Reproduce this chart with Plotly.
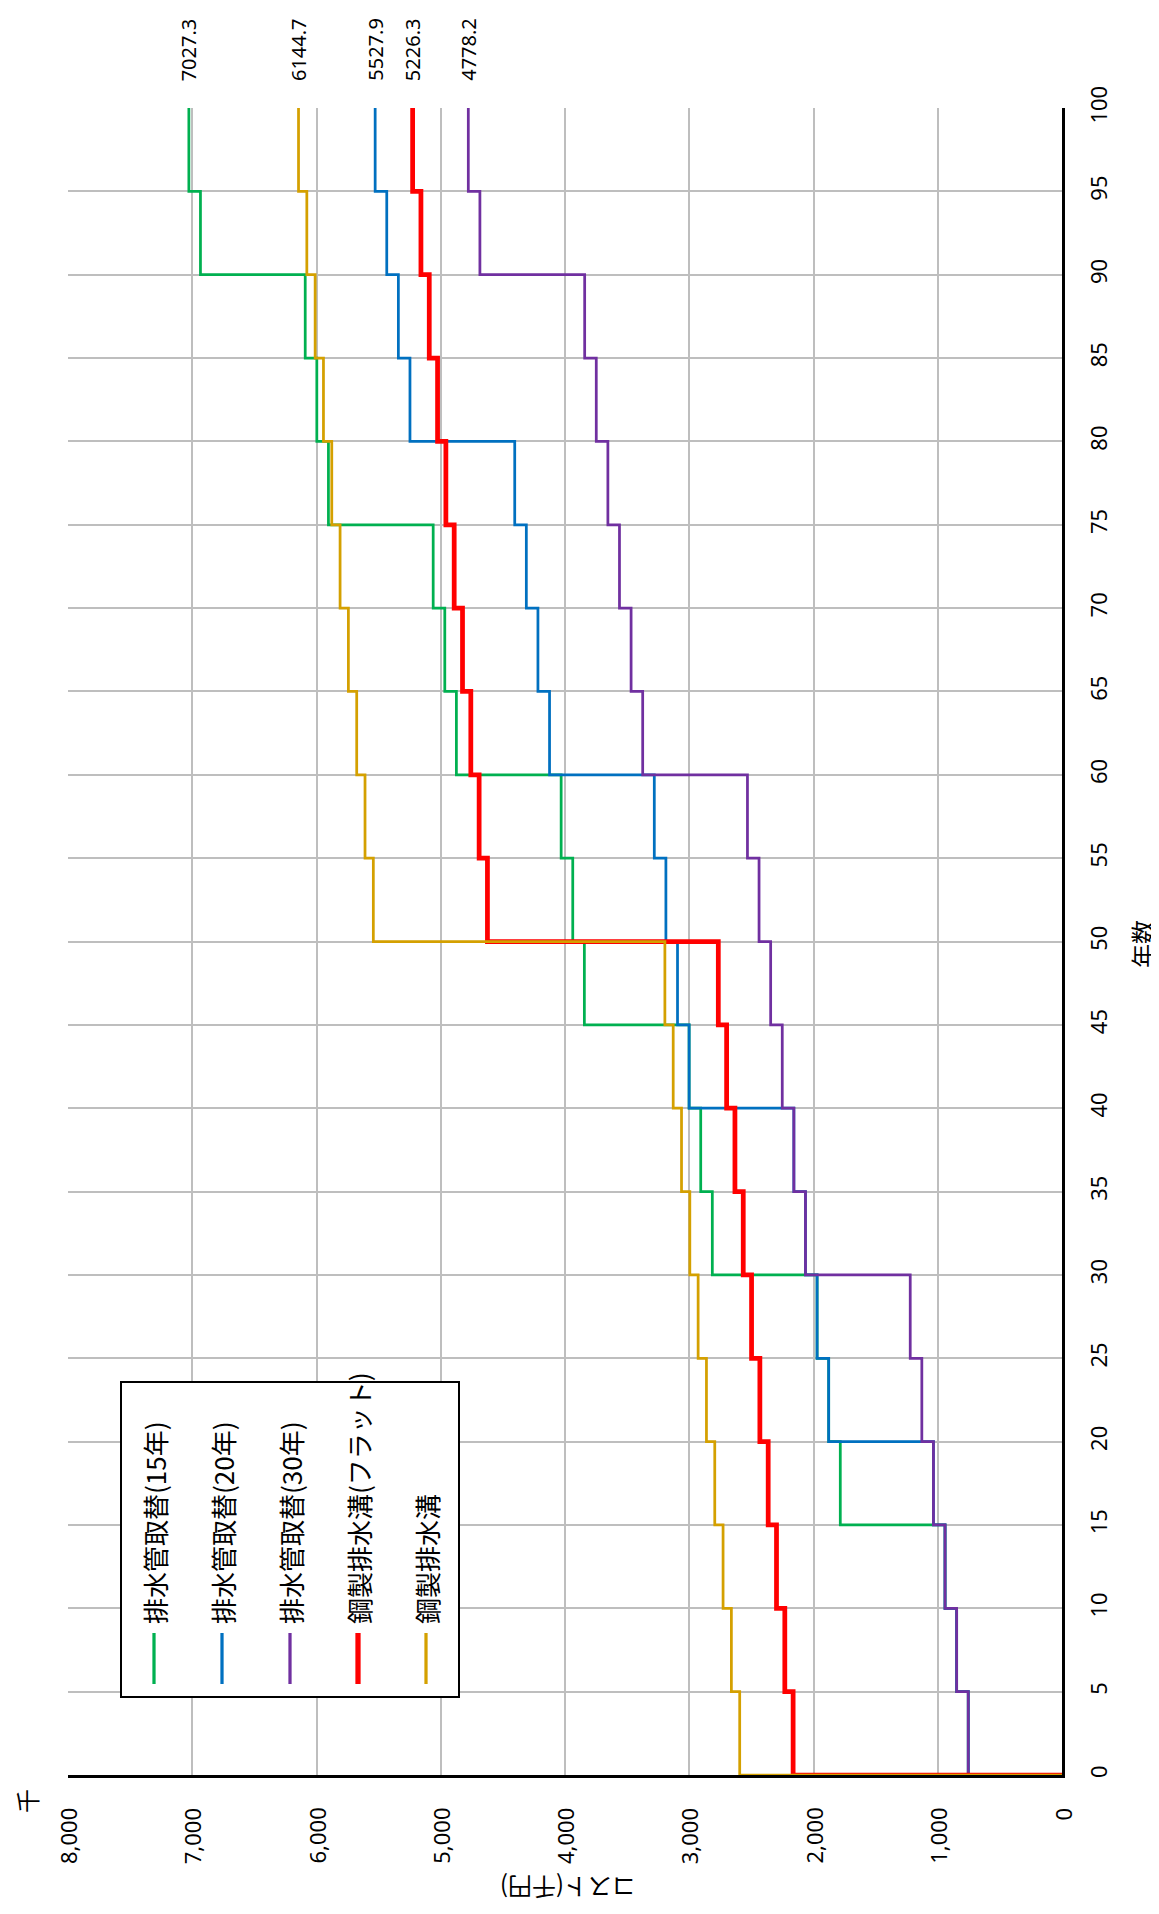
import plotly.graph_objects as go

# ---- data ----
years = [0, 5, 10, 15, 20, 25, 30, 35, 40, 45, 50, 55, 60, 65, 70, 75, 80, 85, 90, 95, 100]

pipe15 = [754.5, 847.9, 941.3, 1784.4, 1877.8, 1971.2, 2814.3, 2907.7, 3001.1, 3844.2,
          3937.6, 4031.0, 4874.1, 4967.5, 5060.9, 5904.0, 5997.4, 6090.8, 6933.9, 7027.3, 7027.3]
pipe20 = [754.5, 847.9, 941.3, 1034.7, 1877.8, 1971.2, 2064.6, 2158.0, 3001.1, 3094.5,
          3187.9, 3281.3, 4124.4, 4217.8, 4311.2, 4404.6, 5247.7, 5341.1, 5434.5, 5527.9, 5527.9]
pipe30 = [754.5, 847.9, 941.3, 1034.7, 1128.1, 1221.5, 2064.6, 2158.0, 2251.4, 2344.8,
          2438.2, 2531.6, 3374.7, 3468.1, 3561.5, 3654.9, 3748.3, 3841.7, 4684.8, 4778.2, 4778.2]
steel_flat = [2164.0, 2230.9, 2297.8, 2364.7, 2431.6, 2498.5, 2565.4, 2632.3, 2699.2, 2766.1,
              4624.2, 4691.1, 4758.0, 4824.9, 4891.8, 4958.7, 5025.6, 5092.5, 5159.4, 5226.3, 5226.3]
steel = [2594.0, 2660.9, 2727.8, 2794.7, 2861.6, 2928.5, 2995.4, 3062.3, 3129.2, 3196.1,
         5542.6, 5609.5, 5676.4, 5743.3, 5810.2, 5877.1, 5944.0, 6010.9, 6077.8, 6144.7, 6144.7]

series_names = ["排水管取替(15年)", "排水管取替(20年)", "排水管取替(30年)", "鋼製排水溝(フラット)", "鋼製排水溝"]
series_values = [pipe15, pipe20, pipe30, steel_flat, steel]
series_colors = ["#00B050", "#0070C0", "#7030A0", "#FF0000", "#D4A000"]
series_widths = [2.75, 2.75, 2.75, 4.75, 2.75]

cost_ticks = [0, 1000, 2000, 3000, 4000, 5000, 6000, 7000, 8000]
year_ticks = years

NUM_FONT = "Noto Sans"
JP_FONT = "Noto Sans CJK JP"

# page body has an 8px margin; positions below are screen pixels
OFF = 8
W, H = 1159 - OFF, 1914 - OFF
X_LEFT, X_RIGHT, Y_TOP, Y_BOTTOM = 68 - OFF, 1062 - OFF, 108 - OFF, 1775 - OFF


def px(x):
    return (x - OFF - X_LEFT) / (X_RIGHT - X_LEFT)


def py(y):
    return (Y_BOTTOM - (y - OFF)) / (Y_BOTTOM - Y_TOP)


fig = go.Figure()
for name, vals, col, lw in zip(series_names, series_values, series_colors, series_widths):
    fig.add_trace(go.Scatter(
        x=[0] + vals, y=[0] + years, mode="lines", name=name,
        line=dict(color=col, width=lw, shape="vh"), showlegend=False,
        hoverinfo="skip"))

annotations = []
# data labels at the end of each series
for vals in series_values:
    annotations.append(dict(
        x=vals[-1], y=100, xref="x", yref="y", text=f"{vals[-1]:.1f}",
        showarrow=False, textangle=-90, yanchor="bottom", xanchor="center",
        yshift=25, font=dict(family=NUM_FONT, size=20, color="#000000")))

# cost tick labels, hanging below the axis (rotated)
for v in cost_ticks:
    annotations.append(dict(
        x=v, y=py(1806), xref="x", yref="paper", text=f"{v:,}",
        showarrow=False, textangle=-90, yanchor="top", xanchor="center",
        font=dict(family=NUM_FONT, size=22, color="#000000")))

# legend (rotated text, built by hand)
shapes = [dict(type="rect", xref="paper", yref="paper",
               x0=px(121), x1=px(459), y0=py(1697), y1=py(1382),
               line=dict(color="#000000", width=2), fillcolor="#FFFFFF", layer="above")]
leg_x = [154, 222, 290, 358, 426]
for lx, name, col, lw in zip(leg_x, series_names, series_colors, series_widths):
    shapes.append(dict(type="line", xref="paper", yref="paper",
                       x0=px(lx), x1=px(lx), y0=py(1684), y1=py(1633),
                       line=dict(color=col, width=lw + 0.5), layer="above"))
    annotations.append(dict(
        x=px(lx), y=py(1626), xref="paper", yref="paper", text=name,
        showarrow=False, textangle=-90, yanchor="bottom", xanchor="center",
        font=dict(family=JP_FONT, size=26, color="#000000")))

# axis titles and unit label
annotations.append(dict(x=px(568), y=py(1889), xref="paper", yref="paper", text="コスト(千円)",
                        showarrow=False, textangle=180, xanchor="center", yanchor="middle",
                        font=dict(family=JP_FONT, size=24, color="#000000")))
annotations.append(dict(x=px(1141), y=py(944), xref="paper", yref="paper", text="年数",
                        showarrow=False, textangle=-90, xanchor="center", yanchor="middle",
                        font=dict(family=JP_FONT, size=24, color="#000000")))
annotations.append(dict(x=px(26), y=py(1801), xref="paper", yref="paper", text="千",
                        showarrow=False, textangle=-90, xanchor="center", yanchor="middle",
                        font=dict(family=JP_FONT, size=24, color="#000000")))

GRID = "#BEBEBE"
fig.update_layout(
    width=W, height=H,
    margin=dict(l=X_LEFT, r=W - X_RIGHT, t=Y_TOP, b=H - Y_BOTTOM, pad=0),
    paper_bgcolor="#FFFFFF", plot_bgcolor="#FFFFFF",
    xaxis=dict(range=[8000, 0], tickvals=cost_ticks, showticklabels=False,
               showgrid=True, gridcolor=GRID, gridwidth=1.5, zeroline=False,
               showline=True, linecolor="#000000", linewidth=3, mirror=False,
               ticks="", layer="below traces"),
    yaxis=dict(range=[0, 100], tickvals=year_ticks, tickangle=-90, side="right",
               showgrid=True, gridcolor=GRID, gridwidth=1.5, zeroline=False,
               showline=True, linecolor="#000000", linewidth=3, mirror=False,
               ticks="", ticklabelstandoff=16, layer="below traces",
               tickfont=dict(family=NUM_FONT, size=22, color="#000000")),
    shapes=shapes, annotations=annotations, showlegend=False,
)

fig.write_html("out.html", config={"displayModeBar": False})
